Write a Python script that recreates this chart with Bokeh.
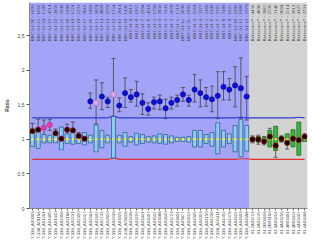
import numpy as np
from math import pi
from bokeh.plotting import figure
from bokeh.models import Range1d, FixedTicker, BoxAnnotation, ColumnDataSource, Whisker, TeeHead
from bokeh.embed import file_html
from bokeh.resources import INLINE

# ---------------- data ----------------
n_test = 38
n_ref = 10
categories = list(range(1, n_test + n_ref + 1))

bottom_labels = [
    "Y-338_A00003", "Y-338_A01166", "Y-338_A01261", "Y-338_A01305", "Y-338_A01340",
    "Y-338_A02056", "Y-338_A02188", "Y-338_A02231", "Y-338_A02310", "Y-338_A02417",
    "Y-338_A02563", "Y-338_A02602", "Y-338_A02745", "Y-338_A02810", "Y-338_A02933",
    "Y-338_A03025", "Y-338_A03118", "Y-338_A03206", "Y-338_A03299", "Y-338_A03341",
    "Y-338_A03407", "Y-338_A03512", "Y-338_A03588", "Y-338_A03640", "Y-338_A03723",
    "Y-338_A03801", "Y-338_A03877", "Y-338_A03912", "Y-338_A04005", "Y-338_A04093",
    "Y-338_A04150", "Y-338_A04236", "Y-338_A04311", "Y-338_A04402", "Y-338_A04478",
    "Y-338_A04519", "Y-338_A04603", "Y-338_A04688",
    "01-2A03713", "01-2A03745", "01-2B03118", "01-2B03160", "01-3A03214",
    "01-3A03255", "01-3B03301", "01-3B03342", "01-4A03407", "01-4A03468",
]
top_labels = [
    "BRCA1-26 - 1693", "BRCA1-25 - 1666", "BRCA1-24 - 1589", "BRCA1-23 - 4714", "BRCA1-22 - 2056",
    "BRCA1-21 - 3349", "BRCA1-20 - 1988", "BRCA1-19 - 1574", "BRCA1-18 - 2231", "BRCA1-17 - 3016",
    "BRCA1-16 - 1860", "BRCA1-15 - 2074", "BRCA1-14 - 4009", "BRCA1-13 - 2378", "BRCA1-12 - 1754",
    "BRCA1-11 - 2014", "BRCA1-10 - 1436", "BRCA1-9 - 2612", "BRCA1-8 - 1957", "BRCA1-7 - 2394",
    "BRCA1-6 - 4218", "BRCA1-5 - 1799", "BRCA1-4 - 2850", "BRCA1-3 - 3141", "BRCA1-2 - 2678",
    "BRCA1-1 - 1513", "BRCA1-1e - 2036", "BRCA1-2e - 1883", "BRCA1-3 - 2564", "BRCA1-4 - 3377",
    "BRCA1-5 - 2160", "BRCA1-6 - 1942", "BRCA1-7 - 2705", "BRCA1-8 - 3188", "BRCA1-9 - 1625",
    "BRCA1-10 - 2293", "BRCA1-11 - 1806", "BRCA1-12 - 2379",
    "Reference* - 4456", "Reference* - 4096", "Reference* - 3865", "Reference* - 2736",
    "Reference* - 3146", "Reference* - 3604", "Reference* - 2514", "Reference* - 3012",
    "Reference* - 4127", "Reference* - 2791",
]

# box extents (upper / lower quartile) for each sample
box_hi = [1.11, 1.12, 1.07, 1.06, 1.06, 1.18, 1.08, 1.10, 1.07, 1.10,
          1.06, 1.21, 1.13, 1.06, 1.33, 1.06, 1.10, 1.04, 1.09, 1.07,
          1.04, 1.05, 1.08, 1.07, 1.05, 1.03, 1.03, 1.04, 1.13, 1.13,
          1.07, 1.10, 1.24, 1.13, 1.08, 1.20, 1.29, 1.20,
          1.03, 1.04, 1.03, 1.13, 1.19, 1.03, 1.08, 1.14, 1.25, 1.03]
box_lo = [0.90, 0.87, 0.95, 0.95, 0.95, 0.85, 0.94, 0.93, 0.94, 0.92,
          0.95, 0.82, 0.88, 0.95, 0.73, 0.95, 0.90, 0.96, 0.92, 0.94,
          0.96, 0.95, 0.94, 0.93, 0.95, 0.97, 0.97, 0.96, 0.89, 0.89,
          0.94, 0.90, 0.79, 0.89, 0.94, 0.82, 0.75, 0.83,
          0.97, 0.96, 0.97, 0.89, 0.84, 0.97, 0.92, 0.89, 0.77, 0.97]
median = [1.0] * 48

upper_limit = [1.31] * 14 + [1.34] + [1.31] * 21 + [1.32, 1.31] + [1.31] * 8 + [1.32, 1.31]
lower_limit = [0.71] * 14 + [0.73] + [0.71] * 21 + [0.72, 0.72] + [0.71] * 10

blue_cats = [11, 13, 14] + list(range(16, 39))
blue_vals = [1.55, 1.62, 1.55, 1.49, 1.67, 1.61, 1.65, 1.53, 1.44, 1.54, 1.55, 1.45, 1.53,
             1.57, 1.65, 1.57, 1.72, 1.67, 1.61, 1.58, 1.63, 1.76, 1.72, 1.78, 1.74, 1.62]
blue_hi = [1.67, 1.82, 1.61, 1.60, 1.89, 1.72, 1.84, 1.66, 1.53, 1.61, 1.64, 1.58, 1.61,
           1.64, 1.75, 1.64, 1.94, 1.86, 1.75, 1.77, 1.98, 1.98, 1.88, 2.05, 2.18, 1.91]
blue_lo = [1.45, 1.43, 1.46, 1.40, 1.46, 1.54, 1.48, 1.36, 1.35, 1.44, 1.43, 1.30, 1.44,
           1.48, 1.55, 1.48, 1.54, 1.47, 1.48, 1.40, 1.30, 1.57, 1.57, 1.47, 1.30, 1.28]

lav_cats = [12, 15]
lav_vals = [1.53, 1.65]
lav_hi = [1.86, 2.17]
lav_lo = [1.22, 1.16]

pink_cats = [3, 4]
pink_vals = [1.17, 1.21]
pink_hi = [1.28, 1.29]
pink_lo = [1.07, 1.13]

black_cats = [1, 2, 5, 6, 7, 8, 9, 10] + list(range(39, 49))
black_vals = [1.12, 1.14, 1.09, 1.01, 1.14, 1.13, 1.05, 1.01,
              1.00, 1.00, 0.97, 1.04, 0.91, 1.01, 0.95, 1.01, 0.99, 1.04]
black_hi = [1.23, 1.29, 1.15, 1.08, 1.22, 1.25, 1.10, 1.08,
            1.05, 1.06, 1.04, 1.16, 1.12, 1.05, 1.04, 1.10, 1.08, 1.08]
black_lo = [1.00, 0.99, 1.03, 0.94, 1.06, 1.02, 1.00, 0.95,
            0.95, 0.93, 0.92, 0.92, 0.74, 0.96, 0.86, 0.93, 0.90, 0.99]

y_ticks = [0, 0.5, 1, 1.5, 2, 2.5]
y_tick_labels = ["0", "0,5", "1", "1,5", "2", "2,5"]

# ---------------- figure ----------------
FONT = "Liberation Sans"
p = figure(width=312, height=242, output_backend="svg", toolbar_location=None,
           x_range=Range1d(0.5, 48.5), y_range=Range1d(0, 2.98),
           min_border_left=0, min_border_right=5, min_border_top=2, min_border_bottom=0)
p.outline_line_color = None
p.grid.grid_line_color = None
p.background_fill_color = "white"

p.add_layout(BoxAnnotation(left=0.5, right=n_test + 0.5, fill_color="#A3A3F7", fill_alpha=1, line_color=None, level="underlay"))
p.add_layout(BoxAnnotation(left=n_test + 0.5, right=48.5, fill_color="#D3D3D3", fill_alpha=1, line_color=None, level="underlay"))

cats = np.array(categories, dtype=float)

# threshold lines
p.line(cats, upper_limit, line_color="#2B3FD0", line_width=1.2)
p.line(cats, lower_limit, line_color="#E03030", line_width=1.2)

# boxes
test_src = ColumnDataSource(dict(x=cats[:n_test], top=box_hi[:n_test], bottom=box_lo[:n_test]))
ref_src = ColumnDataSource(dict(x=cats[n_test:], top=box_hi[n_test:], bottom=box_lo[n_test:]))
p.vbar(x="x", top="top", bottom="bottom", width=0.68, source=test_src,
       fill_color="#8FCBF2", line_color="#34608C", line_width=0.8)
p.vbar(x="x", top="top", bottom="bottom", width=0.68, source=ref_src,
       fill_color="#3FB23F", line_color="#1E6E1E", line_width=0.8)

# median dotted line
p.line(cats, median, line_color="#F2F23A", line_width=1.2, line_dash="1 3")
p.scatter(cats, median, size=2.2, fill_color="#F5F53C", line_color=None)

def errbars(xs, lo, hi):
    src = ColumnDataSource(dict(x=xs, lo=lo, hi=hi))
    w = Whisker(base="x", lower="lo", upper="hi", source=src, dimension="height",
                line_color="#444444", line_width=0.8,
                upper_head=TeeHead(size=4, line_color="#444444", line_width=0.8),
                lower_head=TeeHead(size=4, line_color="#444444", line_width=0.8))
    p.add_layout(w)

errbars(blue_cats, blue_lo, blue_hi)
errbars(lav_cats, lav_lo, lav_hi)
errbars(pink_cats, pink_lo, pink_hi)
errbars(black_cats, black_lo, black_hi)

p.scatter(blue_cats, blue_vals, size=5.2, fill_color="#1010D0", line_color="#000088", line_width=0.6)
p.scatter(lav_cats, lav_vals, size=6, fill_color="#D8A8E8", line_color="#A070B8", line_width=0.8)
p.scatter(pink_cats, pink_vals, size=5.2, fill_color="#E040B0", line_color="#B02088", line_width=0.6)
p.scatter(black_cats, black_vals, size=5.2, fill_color="#1A0505", line_color="#8A1010", line_width=0.8)

# top sample labels
p.text(x=cats, y=[2.95] * len(categories), text=top_labels, angle=pi / 2,
       text_align="right", text_baseline="middle", text_font_size="5px",
       text_font=FONT, text_color="#3A3A3A")

# axes
p.yaxis.ticker = FixedTicker(ticks=y_ticks)
p.yaxis.major_label_overrides = {t: l for t, l in zip(y_ticks, y_tick_labels)}
p.yaxis.axis_label = "Ratio"
p.yaxis.axis_label_text_font_size = "5px"
p.yaxis.axis_label_text_font_style = "bold"
p.yaxis.axis_label_text_font = FONT
p.yaxis.axis_label_standoff = 5
p.yaxis.major_label_text_font_size = "5px"
p.yaxis.major_label_text_font = FONT
p.yaxis.major_label_standoff = 2
p.yaxis.major_tick_in = 0
p.yaxis.major_tick_out = 3
p.yaxis.minor_tick_line_color = None
p.yaxis.axis_line_color = "#888888"
p.yaxis.major_tick_line_color = "#555555"

p.xaxis.ticker = FixedTicker(ticks=categories)
p.xaxis.major_label_overrides = {c: l for c, l in zip(categories, bottom_labels)}
p.xaxis.major_label_orientation = pi / 2
p.xaxis.major_label_text_font_size = "4.2px"
p.xaxis.major_label_text_font = FONT
p.xaxis.major_label_standoff = 1
p.xaxis.major_tick_in = 0
p.xaxis.major_tick_out = 2
p.xaxis.minor_tick_line_color = None
p.xaxis.axis_line_color = "#888888"
p.xaxis.major_tick_line_color = "#666666"

open("out.html", "w").write(file_html(p, INLINE))
